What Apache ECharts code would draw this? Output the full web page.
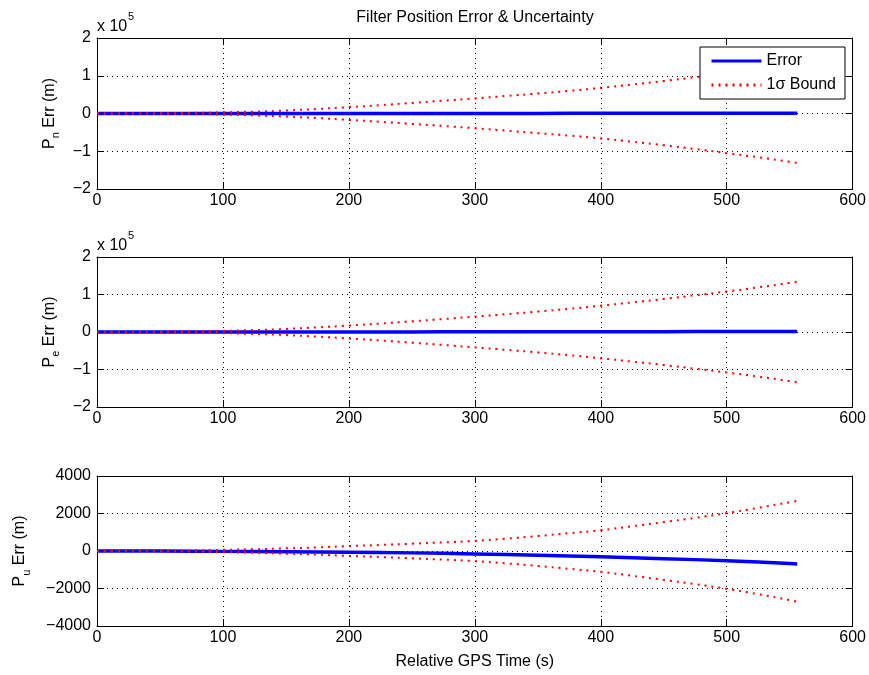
<!DOCTYPE html>
<html><head><meta charset="utf-8">
<script src="https://cdn.jsdelivr.net/npm/echarts@6/dist/echarts.min.js"></script>
<style>html,body{margin:0;padding:0;background:#fff}#c{width:869px;height:675px}</style>
</head><body><div id="c"></div>
<script>
// ---- data ----
const time = [0,25,50,75,100,125,150,175,200,225,250,275,300,325,350,375,400,425,450,475,500,525,550,556];
const errN = [0,10,20,30,50,60,80,100,120,150,180,200,240,270,300,340,380,420,460,500,550,600,650,660];
const sigNUp = [0,200,800,1700,3000,5000,8000,12000,17000,22000,28000,34000,40000,46500,53000,60000,68000,77000,86000,96000,106000,117000,129000,132000];
const sigNLo = [0,-200,-800,-1700,-3000,-5000,-8000,-12000,-17000,-22000,-27500,-33000,-39000,-45500,-52000,-58500,-66000,-75000,-84000,-94000,-105000,-116000,-128000,-131000];
const errE = [0,20,40,60,90,120,150,190,230,280,330,390,450,520,600,680,770,860,960,1070,1180,1300,1430,1460];
const sigEUp = [0,200,800,1800,3100,5200,8200,12300,17200,22500,28500,34500,41000,47500,54500,62000,70000,79000,88000,98000,108000,119000,131000,134000];
const sigELo = [0,-200,-800,-1800,-3100,-5200,-8200,-12300,-17200,-22500,-28500,-34500,-41000,-47500,-54500,-62000,-70000,-79000,-88000,-98000,-108000,-119000,-131000,-134000];
const errU = [0,0,-5,-10,-20,-30,-40,-50,-65,-80,-100,-125,-155,-190,-225,-265,-310,-360,-410,-460,-520,-590,-670,-690];
const sigUUp = [0,5,15,35,60,95,140,195,260,320,390,460,540,660,800,950,1110,1320,1540,1770,2020,2300,2600,2670];
const sigULo = [0,-5,-15,-35,-60,-95,-140,-195,-260,-320,-390,-460,-540,-660,-800,-950,-1110,-1320,-1540,-1770,-2020,-2300,-2620,-2710];
const xTicks = {min:0, max:600, interval:100};
const yTicksNE = {min:-200000, max:200000, interval:100000};
const yTicksU = {min:-4000, max:4000, interval:2000};
const titleText = 'Filter Position Error & Uncertainty';
const xName = 'Relative GPS Time (s)';
const yNames = [['P','n',' Err (m)'],['P','e',' Err (m)'],['P','u',' Err (m)']];
const legendNames = ['Error','1\u03c3 Bound'];

// ---- layout ----
const FONT = 'Liberation Sans, Arial, Helvetica, sans-serif';
const FS = 16;
const grids = [
  {left:97, top:38, width:756, height:151},
  {left:97, top:257, width:756, height:150},
  {left:97, top:476, width:756, height:150}
];
const nameGaps = [33, 33, 65];
const pair = (xs, ys) => xs.map((x,i)=>[x, ys[i]]);
const minus = v => String(v).replace('-', '\u2212');
const dotted = {type:[1,4], color:'#000', width:1};

const xAxis = [], yAxis = [], series = [];
grids.forEach((g, i) => {
  const yt = i < 2 ? yTicksNE : yTicksU;
  const fmt = i < 2 ? (v => minus(v/100000)) : (v => minus(v));
  xAxis.push({type:'value', gridIndex:i, position:'bottom', min:xTicks.min, max:xTicks.max, interval:xTicks.interval,
    axisLine:{show:true, onZero:false, lineStyle:{color:'#000', width:1}},
    axisTick:{show:true, inside:true, length:7, lineStyle:{color:'#000'}},
    axisLabel:{show:true, color:'#000', fontSize:FS, fontFamily:FONT, margin:4},
    splitLine:{show:true, lineStyle:dotted},
    name: i===2 ? xName : '', nameLocation:'middle', nameGap:28,
    nameTextStyle:{color:'#000', fontSize:FS, fontFamily:FONT}
  });
  xAxis.push({type:'value', gridIndex:i, position:'top', min:xTicks.min, max:xTicks.max, interval:xTicks.interval,
    axisLine:{show:true, onZero:false, lineStyle:{color:'#000', width:1}},
    axisTick:{show:true, inside:true, length:7, lineStyle:{color:'#000'}},
    axisLabel:{show:false}, splitLine:{show:false}
  });
  const nm = yNames[i];
  yAxis.push({type:'value', gridIndex:i, position:'left', min:yt.min, max:yt.max, interval:yt.interval,
    axisLine:{show:true, onZero:false, lineStyle:{color:'#000', width:1}},
    axisTick:{show:true, inside:true, length:7, lineStyle:{color:'#000'}},
    axisLabel:{show:true, color:'#000', fontSize:FS, fontFamily:FONT, margin:6, formatter:fmt},
    splitLine:{show:true, lineStyle:dotted},
    name:'{a|'+nm[0]+'}{s|'+nm[1]+'}{a|'+nm[2]+'}', nameLocation:'middle', nameGap:nameGaps[i], nameRotate:90,
    nameTextStyle:{color:'#000', fontFamily:FONT, rich:{
      a:{fontSize:FS, fontFamily:FONT, color:'#000', lineHeight:24, verticalAlign:'middle'},
      s:{fontSize:11, fontFamily:FONT, color:'#000', lineHeight:24, verticalAlign:'bottom'}
    }}
  });
  yAxis.push({type:'value', gridIndex:i, position:'right', min:yt.min, max:yt.max, interval:yt.interval,
    axisLine:{show:true, onZero:false, lineStyle:{color:'#000', width:1}},
    axisTick:{show:true, inside:true, length:7, lineStyle:{color:'#000'}},
    axisLabel:{show:false}, splitLine:{show:false}
  });
});

const errs = [errN, errE, errU];
const ups = [sigNUp, sigEUp, sigUUp];
const los = [sigNLo, sigELo, sigULo];
const redStyle = {color:'#ff0000', width:2, type:[2,5]};
for (let i = 0; i < 3; i++) {
  series.push({name:legendNames[0], type:'line', xAxisIndex:2*i, yAxisIndex:2*i, data:pair(time, errs[i]),
    symbol:'none', smooth:false, lineStyle:{color:'#0000ff', width:3.5}, itemStyle:{color:'#0000ff'}, z:3, animation:false});
  series.push({name:legendNames[1], type:'line', xAxisIndex:2*i, yAxisIndex:2*i, data:pair(time, ups[i]),
    symbol:'none', smooth:true, lineStyle:redStyle, itemStyle:{color:'#ff0000'}, z:4, animation:false});
  series.push({name:legendNames[1], type:'line', xAxisIndex:2*i, yAxisIndex:2*i, data:pair(time, los[i]),
    symbol:'none', smooth:true, lineStyle:redStyle, itemStyle:{color:'#ff0000'}, z:4, animation:false});
}

const chart = echarts.init(document.getElementById('c'), null, {renderer:'canvas'});
chart.setOption({
  animation:false,
  backgroundColor:'#fff',
  grid: grids.map(g => Object.assign({containLabel:false}, g)),
  xAxis, yAxis, series,
  legend:{data:legendNames, orient:'vertical', left:700, top:47, padding:[6,9,6,10], itemGap:8,
    itemWidth:50, itemHeight:14, backgroundColor:'#fff', borderColor:'#000', borderWidth:1, borderRadius:0,
    itemStyle:{opacity:0}, lineStyle:{width:3},
    textStyle:{color:'#000', fontSize:FS, fontFamily:FONT}, selectedMode:false, z:10},
  graphic:[
    {type:'text', x:475, y:18, style:{text:titleText, font:FS+'px '+FONT, fill:'#000', textAlign:'center', textVerticalAlign:'middle'}},
    {type:'text', x:97, y:27, style:{text:'x 10', font:FS+'px '+FONT, fill:'#000', textAlign:'left', textVerticalAlign:'middle'}},
    {type:'text', x:128, y:17, style:{text:'5', font:'11px '+FONT, fill:'#000', textAlign:'left', textVerticalAlign:'middle'}},
    {type:'text', x:97, y:246, style:{text:'x 10', font:FS+'px '+FONT, fill:'#000', textAlign:'left', textVerticalAlign:'middle'}},
    {type:'text', x:128, y:236, style:{text:'5', font:'11px '+FONT, fill:'#000', textAlign:'left', textVerticalAlign:'middle'}}
  ]
});
</script></body></html>
